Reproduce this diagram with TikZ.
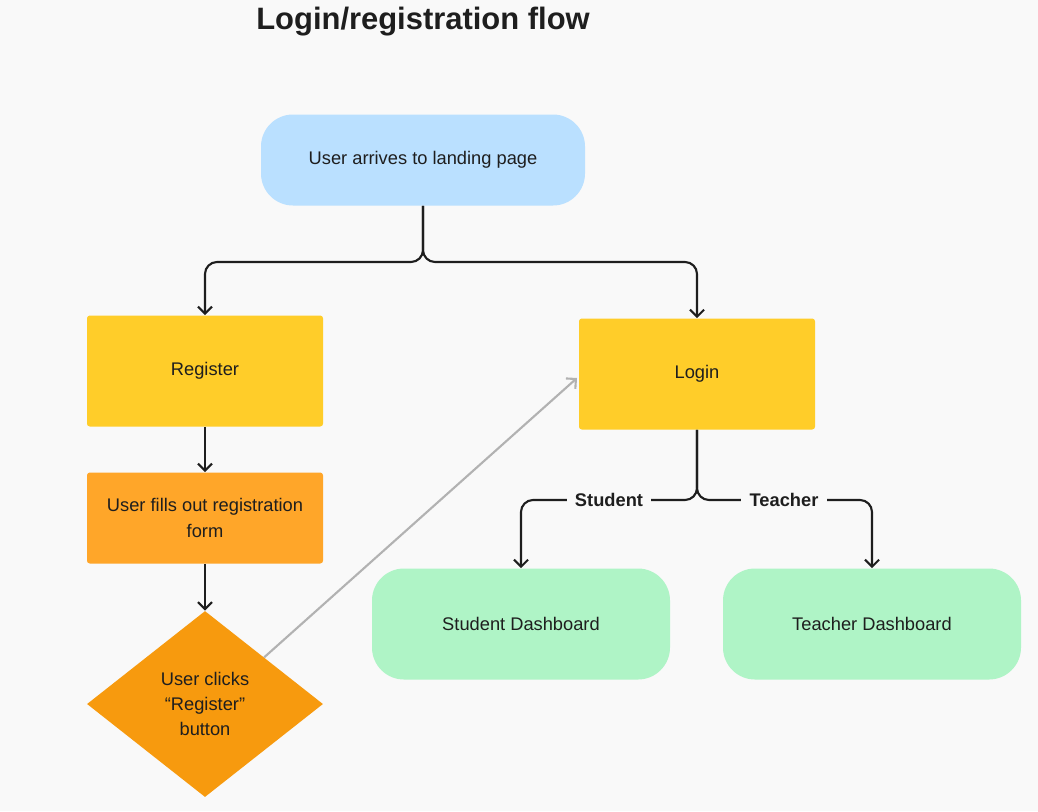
\documentclass[tikz,border=0pt]{standalone}
\usepackage{fontspec}
\setmainfont{Liberation Sans}
\usetikzlibrary{arrows.meta,shapes.geometric}
\definecolor{bgcol}{HTML}{F9F9F9}
\definecolor{bluefill}{HTML}{BAE0FF}
\definecolor{yellowfill}{HTML}{FFCD29}
\definecolor{orangefill}{HTML}{FFA629}
\definecolor{darkorange}{HTML}{F79A0E}
\definecolor{greenfill}{HTML}{AFF4C6}
\definecolor{inkcol}{HTML}{1E1E1E}
\begin{document}
\begin{tikzpicture}
        [x=0.025cm, y=-0.025cm,
        box/.style={draw=none, rounded corners=2pt, minimum width=236*0.025cm, minimum height=111*0.025cm, align=center, text=inkcol, font=\fontsize{13}{18}\selectfont},
        pill/.style={box, rounded corners=32*0.025cm, minimum width=298*0.025cm},
        flow/.style={inkcol, line width=1.5pt, rounded corners=12*0.025cm, -{Straight Barb[length=5pt,width=10pt]}},
        jump/.style={gray!60, line width=1.5pt, -{Straight Barb[length=5pt,width=10pt]}},
        tag/.style={fill=bgcol, text=inkcol, font=\fontsize{13}{16}\selectfont\bfseries, inner sep=6pt}]

        \fill[bgcol] (0,0) rectangle (1038,811);
        \useasboundingbox (0,0) rectangle (1038,811);

        \node[font=\fontsize{22}{26}\selectfont\bfseries, text=inkcol] (title) at (423,22) {Login/registration flow};

        \node[pill, fill=bluefill, minimum width=324*0.025cm, minimum height=91*0.025cm] (landing) at (423,160) {User arrives to landing page};
        \node[box, fill=yellowfill] (register) at (205,371) {Register};
        \node[box, fill=yellowfill] (login) at (697,374) {Login};
        \node[box, fill=orangefill, minimum height=91*0.025cm] (form) at (205,518) {User fills out registration\\form};
        \node[diamond, fill=darkorange, text=inkcol, minimum width=236*0.025cm, minimum height=186*0.025cm, inner sep=0pt, align=center, font=\fontsize{13}{18}\selectfont] (click) at (205,704) {User clicks\\``Register''\\button};
        \node[pill, fill=greenfill] (student) at (521,624) {Student Dashboard};
        \node[pill, fill=greenfill] (teacher) at (872,624) {Teacher Dashboard};
        \coordinate (fork) at (423,262);
        \coordinate (split) at (697,500);

        % main flow
        \draw[flow] (landing.south) -- (fork) -| (register.north);
        \draw[flow] (landing.south) -- (fork) -| (login.north);
        \draw[flow] (register) -- (form);
        \draw[flow] (form) -- (click);
        \draw[flow] (login.south) -- (split) -| (student.north);
        \draw[flow] (login.south) -- (split) -| (teacher.north);
        \node[tag] at (609,500) {Student};
        \node[tag] at (784,500) {Teacher};

        % back to login
        \draw[jump] (click.north east) -- (577,378);

    \end{tikzpicture}
\end{document}
